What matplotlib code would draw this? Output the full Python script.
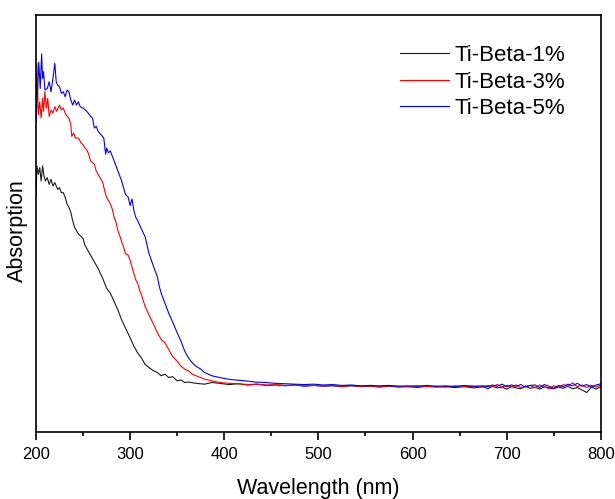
import matplotlib
matplotlib.use('Agg')
import matplotlib.pyplot as plt
from matplotlib.ticker import MultipleLocator

plt.rcParams['font.family'] = ['Liberation Sans', 'DejaVu Sans']

# values (arbitrary absorption units, 0 = bottom axis, 1 = top)
wl_1 = [200, 201, 202.5, 204, 205.5, 207, 208.5, 210, 212, 214, 216, 218, 220, 223, 225, 227, 229, 231,
        233, 235, 237, 239, 241, 243, 245, 247, 250, 252, 254, 258, 262, 266, 271, 275, 279, 283, 287,
        291, 295, 300, 304, 308, 312, 316, 320, 325, 329, 333, 337, 341, 345, 350, 354, 358, 362, 370,
        379, 387, 395, 405, 415, 425, 435, 445, 455, 465, 475, 485, 495, 505, 515, 525, 535, 545, 555,
        565, 575, 585, 595, 605, 615, 625, 635, 645, 655, 665, 675, 680, 685, 690, 695, 700, 705, 710,
        715, 720, 725, 730, 735, 740, 745, 750, 755, 760, 765, 770, 775, 780, 785, 790, 795, 800]
abs_1 = [0.563, 0.638, 0.618, 0.634, 0.602, 0.638, 0.614, 0.602, 0.610, 0.594, 0.606, 0.590, 0.598,
         0.582, 0.586, 0.574, 0.574, 0.563, 0.547, 0.539, 0.527, 0.507, 0.491, 0.483, 0.475, 0.471,
         0.464, 0.448, 0.440, 0.424, 0.408, 0.392, 0.368, 0.345, 0.333, 0.313, 0.293, 0.269, 0.250,
         0.226, 0.206, 0.190, 0.178, 0.162, 0.155, 0.147, 0.143, 0.135, 0.139, 0.131, 0.133, 0.123,
         0.125, 0.119, 0.120, 0.117, 0.115, 0.119, 0.117, 0.114, 0.116, 0.113, 0.115, 0.112, 0.113,
         0.111, 0.113, 0.110, 0.112, 0.110, 0.111, 0.109, 0.111, 0.109, 0.110, 0.108, 0.110, 0.108,
         0.109, 0.107, 0.110, 0.108, 0.109, 0.107, 0.109, 0.106, 0.109, 0.104, 0.110, 0.106, 0.108,
         0.103, 0.109, 0.106, 0.104, 0.110, 0.105, 0.108, 0.103, 0.109, 0.106, 0.104, 0.108, 0.105,
         0.110, 0.104, 0.107, 0.101, 0.095, 0.108, 0.103, 0.110]

wl_3 = [200, 201, 202.5, 204, 205.5, 207, 208, 209.5, 211, 212.5, 214, 216, 218, 220, 222, 225, 227,
        229, 231, 233, 235, 237, 238, 240, 242, 245, 248, 250, 252, 254, 256, 258, 260, 262, 264, 266,
        269, 271, 273, 275, 277, 279, 281, 283, 285, 287, 289, 291, 293, 295, 298, 300, 302, 304, 306,
        308, 310, 312, 316, 320, 325, 329, 333, 337, 341, 345, 350, 354, 358, 362, 366, 370, 375, 379,
        387, 395, 405, 415, 425, 435, 445, 455, 465, 475, 485, 495, 505, 515, 525, 535, 545, 555, 565,
        575, 585, 595, 605, 615, 625, 635, 645, 655, 665, 675, 680, 685, 690, 695, 700, 705, 710, 715,
        720, 725, 730, 735, 740, 745, 750, 755, 760, 765, 770, 775, 780, 785, 790, 795, 800]
abs_3 = [0.745, 0.884, 0.761, 0.792, 0.753, 0.800, 0.769, 0.816, 0.777, 0.800, 0.757, 0.772, 0.765,
         0.780, 0.769, 0.784, 0.773, 0.777, 0.765, 0.757, 0.753, 0.737, 0.709, 0.717, 0.705, 0.705,
         0.693, 0.689, 0.681, 0.677, 0.666, 0.650, 0.646, 0.642, 0.626, 0.618, 0.606, 0.598, 0.578,
         0.563, 0.555, 0.547, 0.535, 0.515, 0.503, 0.483, 0.471, 0.456, 0.444, 0.428, 0.424, 0.412,
         0.396, 0.380, 0.365, 0.357, 0.341, 0.329, 0.301, 0.281, 0.258, 0.238, 0.222, 0.214, 0.198,
         0.182, 0.170, 0.158, 0.151, 0.147, 0.139, 0.135, 0.131, 0.127, 0.123, 0.119,
         0.117, 0.116, 0.114, 0.115, 0.113, 0.114, 0.112, 0.113, 0.111, 0.112, 0.111, 0.112, 0.110,
         0.112, 0.110, 0.111, 0.109, 0.111, 0.110, 0.109, 0.111, 0.109, 0.110, 0.108, 0.111, 0.109,
         0.110, 0.108,
         0.112, 0.109, 0.114, 0.108, 0.112, 0.109, 0.113, 0.107, 0.110, 0.112, 0.106, 0.113, 0.109,
         0.104, 0.111, 0.108, 0.114, 0.110, 0.118, 0.109, 0.113, 0.107, 0.112, 0.108, 0.114]

wl_5 = [200, 202, 203, 204.5, 206, 207, 208, 209.5, 212, 214, 216, 218, 220, 221.5, 223, 225, 227,
        229, 231, 233, 235, 237, 239, 241, 243, 245, 247, 250, 254, 258, 260, 262, 264, 266, 269, 272,
        274, 275, 277, 279, 281, 283, 287, 291, 295, 298, 300, 302, 304, 306, 308, 312, 316, 318, 320,
        322, 325, 327, 329, 331, 333, 335, 337, 341, 345, 350, 354, 358, 362, 366, 370, 375, 379, 387,
        395, 404, 412, 422, 433, 444, 454, 465, 475, 485, 495, 505, 515, 525, 535, 545, 555, 565, 575,
        585, 595, 605, 615, 625, 635, 645, 655, 665, 675, 680, 685, 690, 695, 700, 705, 710, 715, 720,
        725, 730, 735, 740, 745, 750, 755, 760, 765, 770, 775, 780, 785, 790, 795, 800]
abs_5 = [0.745, 0.832, 0.887, 0.824, 0.907, 0.848, 0.864, 0.820, 0.824, 0.840, 0.816, 0.848, 0.884,
         0.840, 0.832, 0.828, 0.812, 0.816, 0.804, 0.820, 0.816, 0.796, 0.784, 0.796, 0.784, 0.792,
         0.780, 0.777, 0.769, 0.757, 0.753, 0.729, 0.733, 0.721, 0.713, 0.705, 0.666, 0.681, 0.670,
         0.674, 0.662, 0.650, 0.626, 0.602, 0.570, 0.563, 0.543, 0.559, 0.531, 0.515, 0.507, 0.487,
         0.468, 0.448, 0.428, 0.416, 0.396, 0.384, 0.372, 0.349, 0.333, 0.321, 0.309, 0.285, 0.265,
         0.238, 0.218, 0.194, 0.178, 0.166, 0.158, 0.151, 0.143, 0.135, 0.131, 0.127, 0.125, 0.123,
         0.120, 0.119, 0.117,
         0.116, 0.115, 0.114, 0.115, 0.113, 0.114, 0.112, 0.113, 0.111, 0.112, 0.111, 0.112, 0.110,
         0.111, 0.110, 0.112, 0.110, 0.111, 0.109, 0.112, 0.110, 0.111,
         0.109, 0.113, 0.110, 0.115, 0.109, 0.113, 0.110, 0.114, 0.108, 0.112, 0.113, 0.107, 0.114,
         0.110, 0.105, 0.112, 0.109, 0.115, 0.111, 0.117, 0.110, 0.114, 0.108, 0.113, 0.116]

series = [
    ('Ti-Beta-1%', wl_1, abs_1, '#1a1a1a'),
    ('Ti-Beta-3%', wl_3, abs_3, '#ff0000'),
    ('Ti-Beta-5%', wl_5, abs_5, '#0000ff'),
]

fig = plt.figure(figsize=(6.15, 4.99), dpi=100)
ax = fig.add_axes([0.0585, 0.134, 0.9185, 0.836])

for label, wl, ab, color in series:
    ax.plot(wl, ab, color=color, lw=0.8, label=label)

ax.set_xlim(200, 800)
ax.set_ylim(0, 1)
ax.xaxis.set_major_locator(MultipleLocator(100))
ax.xaxis.set_minor_locator(MultipleLocator(50))
ax.tick_params(axis='x', which='major', direction='out', length=5.5, width=1.2, labelsize=12, pad=5)
ax.tick_params(axis='x', which='minor', direction='out', length=3, width=1.2)
ax.set_yticks([])
for s in ax.spines.values():
    s.set_linewidth(1.2)

ax.set_xlabel('Wavelength (nm)', fontsize=15.5, labelpad=12)
ax.set_ylabel('Absorption', fontsize=15.5)
ax.yaxis.set_label_coords(-0.014, 0.484)

ax.legend(loc='upper left', bbox_to_anchor=(0.644, 0.928), frameon=False, fontsize=16,
          handlelength=2.2, handletextpad=0.28, labelspacing=0.25, borderpad=0, borderaxespad=0)

fig.savefig('out.png', dpi=100)
